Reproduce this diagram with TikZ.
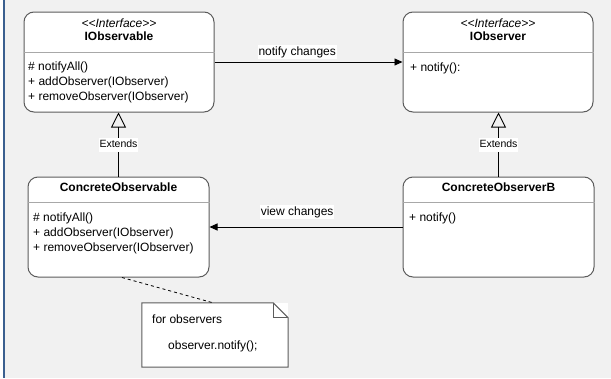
\documentclass[tikz,border=0pt]{standalone}
\usepackage{fontspec}
\setmainfont{Liberation Sans}
\usetikzlibrary{arrows.meta}
\definecolor{canvas}{HTML}{F1F1F1}
\definecolor{frameblue}{HTML}{3A5F8F}
\definecolor{boxline}{HTML}{5C5C5C}
\definecolor{sepline}{HTML}{A8A8A8}
\begin{document}
\fontsize{12}{14}\selectfont
\begin{tikzpicture}[x=1pt,y=-1pt,
  classbox/.style={draw=boxline, fill=white, rounded corners=10pt, line width=1pt, inner sep=0, minimum height=100},
  sep/.style={draw=sepline, line width=0.8pt},
  txt/.style={inner sep=0, text height=9pt, text depth=3pt, anchor=west},
  title/.style={inner sep=0, text height=9pt, text depth=3pt, font=\bfseries},
  stereo/.style={inner sep=0, text height=9pt, text depth=3pt, font=\itshape},
  lbl/.style={fill=white, inner sep=1pt, text height=9pt, text depth=3pt},
  link/.style={draw=black, line width=0.9pt},
  assoc/.style={link, -{Triangle[length=8pt,width=7pt]}},
  extends/.style={link, -{Triangle[open,length=15pt,width=15pt,line width=0.9pt]}}]

% canvas and left frame rule
\useasboundingbox (0,0) rectangle (611,378);
\fill[canvas] (0,0) rectangle (611,378);
\fill[white] (0,0) rectangle (2.7,378);
\fill[frameblue] (2.7,0) rectangle (5,378);

% interface IObservable
\node[classbox, minimum width=190] (iobs) at (119,62) {};
\draw[sep] ([yshift=-41pt]iobs.north west) -- ([yshift=-41pt]iobs.north east);
\node[stereo] (iobsst) at (119,24) {<{}<Interface>{}>};
\node[title] (iobsnm) at (119,37) {IObservable};
\node[txt] (iobsm1) at (28,67) {\# notifyAll()};
\node[txt] (iobsm2) at (28,82) {+ addObserver(IObserver)};
\node[txt] (iobsm3) at (28,97) {+ removeObserver(IObserver)};

% interface IObserver
\node[classbox, minimum width=190] (iobsr) at (498,62) {};
\draw[sep] ([yshift=-41pt]iobsr.north west) -- ([yshift=-41pt]iobsr.north east);
\node[stereo] (iobsrst) at (498,24) {<{}<Interface>{}>};
\node[title] (iobsrnm) at (498,37) {IObserver};
\node[txt] (iobsrm1) at (410,68) {+ notify():};

% class ConcreteObservable
\node[classbox, minimum width=181] (cobs) at (118.5,227) {};
\draw[sep] ([yshift=-26pt]cobs.north west) -- ([yshift=-26pt]cobs.north east);
\node[title] (cobsnm) at (118.5,188) {ConcreteObservable};
\node[txt] (cobsm1) at (33,218) {\# notifyAll()};
\node[txt] (cobsm2) at (33,233) {+ addObserver(IObserver)};
\node[txt] (cobsm3) at (33,248) {+ removeObserver(IObserver)};

% class ConcreteObserverB
\node[classbox, minimum width=191] (cobsb) at (498.5,227) {};
\draw[sep] ([yshift=-26pt]cobsb.north west) -- ([yshift=-26pt]cobsb.north east);
\node[title] (cobsbnm) at (498.5,188) {ConcreteObserverB};
\node[txt] (cobsbm1) at (409,218) {+ notify()};

% associations
\draw[assoc] (iobs.east) -- (iobsr.west)
  node[lbl, pos=0.44, yshift=10pt] {notify changes};
\draw[assoc] (cobsb.west) -- (cobs.east)
  node[lbl, pos=0.546, yshift=15pt] {view changes};

% realisations
\draw[extends] (cobs.north) -- (cobs.north |- iobs.south)
  node[lbl, midway, font=\fontsize{10.5}{12}\selectfont] {Extends};
\draw[extends] (cobsb.north) -- (cobsb.north |- iobsr.south)
  node[lbl, midway, font=\fontsize{10.5}{12}\selectfont] {Extends};

% comment note
\node[fill=white, minimum width=146, minimum height=64, inner sep=0] (note) at (215,335) {};
\draw[boxline, line width=1pt, line join=miter]
  (note.south west) -- (note.north west) -- ([xshift=-15pt]note.north east)
  -- ([yshift=-15pt]note.north east) -- (note.south east) -- cycle;
\draw[boxline, line width=1pt]
  ([xshift=-15pt]note.north east) -- ([xshift=-15pt,yshift=-15pt]note.north east)
  -- ([yshift=-15pt]note.north east);
\node[txt] (notel1) at (152,320) {for observers};
\node[txt] (notel2) at (168,346) {observer.notify();};
\draw[link, dash pattern=on 3pt off 3pt, line width=0.8pt]
  ([xshift=3.5pt]cobs.south) -- ([xshift=-2pt]note.north);
\end{tikzpicture}
\end{document}
